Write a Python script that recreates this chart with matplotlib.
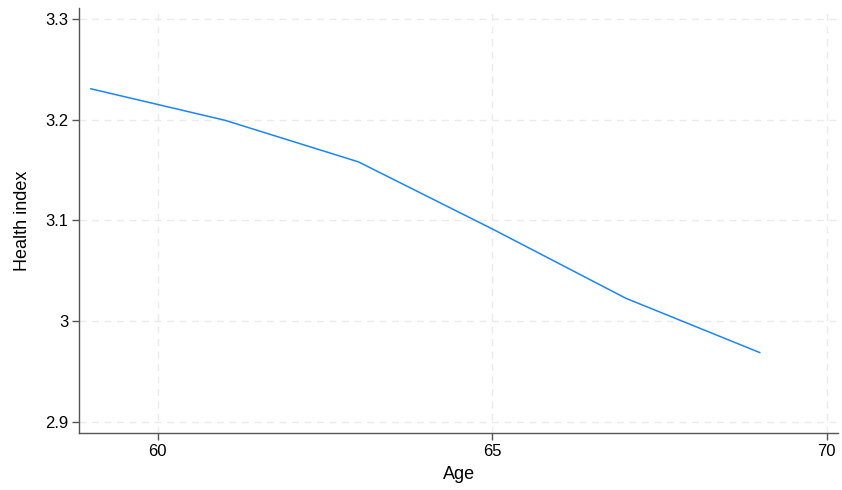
import matplotlib
matplotlib.use("Agg")
import matplotlib.pyplot as plt
from matplotlib.ticker import FuncFormatter

# Data
ages = [59, 61, 63, 65, 67, 69]
health = [3.2307, 3.1995, 3.1581, 3.0915, 3.0225, 2.9686]
x_ticks = [60, 65, 70]
y_ticks = [2.9, 3.0, 3.1, 3.2, 3.3]

plt.rcParams["font.family"] = ["Liberation Sans", "DejaVu Sans"]

fig = plt.figure(figsize=(8.42, 4.9), dpi=100)
ax = fig.add_axes([0.0944, 0.117, 0.9008, 0.8667])

ax.plot(ages, health, color="#1a85ff", linewidth=1.1)

ax.set_xlim(58.83, 70.17)
ax.set_ylim(2.889, 3.311)
ax.set_xticks(x_ticks)
ax.set_yticks(y_ticks)
ax.yaxis.set_major_formatter(FuncFormatter(lambda v, p: f"{v:g}"))

ax.grid(True, color="#ebebeb", linestyle=(0, (5, 4)), linewidth=1.0)
ax.set_axisbelow(True)

for side in ["top", "right"]:
    ax.spines[side].set_visible(False)
for side in ["left", "bottom"]:
    ax.spines[side].set_color("#555555")
    ax.spines[side].set_linewidth(1.0)

ax.tick_params(axis="both", labelsize=12, length=5, width=1.0, color="#555555", pad=3)

ax.set_xlabel("Age", fontsize=13, labelpad=5)
ax.set_ylabel("Health index", fontsize=13, labelpad=10)

fig.savefig("out.png", dpi=100)
